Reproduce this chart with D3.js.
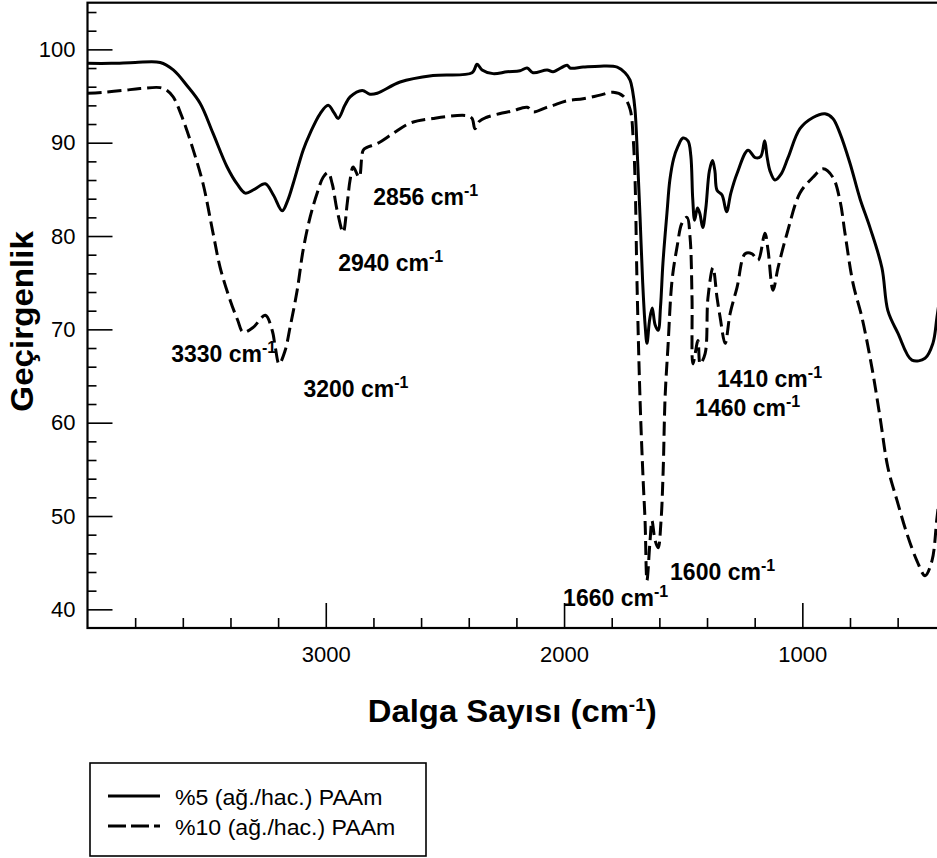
<!DOCTYPE html>
<html>
<head>
<meta charset="utf-8">
<script src="https://cdn.jsdelivr.net/npm/d3@7"></script>
<style>
  body { margin: 0; background: #fff; }
  svg { display: block; font-family: Arial, "Liberation Sans", sans-serif; }
</style>
</head>
<body>
<div id="chart"></div>
<script>
// %5 (ag./hac.) PAAm  - solid line
var wave5 = [4000,3900,3800,3695,3640,3582,3527,3473,3414,3370,3338,3300,3254,3220,3183,3160,3137,3095,3066,3024,
  2990,2965,2948,2920,2898,2847,2815,2784,2688,2550,2386,2365,2344,2298,2239,2185,2155,2130,2071,2046,
  1987,1975,1920,1849,1777,1744,1723,1712,1702,1692,1681,1670,1660,1652,1641,1630,1618,1605,1595,1585,
  1568,1556,1540,1522,1501,1480,1468,1460,1452,1440,1430,1418,1405,1390,1377,1367,1358,1337,1318,1300,
  1274,1228,1198,1175,1158,1148,1136,1115,1090,1060,1010,955,905,872,842,800,758,716,666,641,
  599,540,485,452,435,420];
var trans5 = [98.5,98.5,98.6,98.6,97.8,96.1,94.2,91.0,87.4,85.5,84.6,85.0,85.6,84.4,82.7,83.8,85.6,89.2,91.0,93.1,
  94.0,93.2,92.6,94.0,94.9,95.6,95.2,95.3,96.5,97.2,97.5,98.4,97.8,97.4,97.6,97.7,98.0,97.5,97.8,97.6,
  98.3,98.0,98.1,98.2,98.1,97.5,96.7,95.5,93.5,88.5,82.0,75.0,70.5,68.5,71.0,72.3,70.5,69.9,72.5,77.1,
  82.5,86.0,88.3,89.6,90.5,90.2,88.6,84.0,81.7,83.0,82.4,80.9,83.0,87.0,88.1,87.0,84.9,84.4,82.6,84.6,
  86.7,89.2,88.4,88.5,90.2,88.5,87.0,86.0,86.6,88.4,91.5,92.7,93.1,92.6,91.0,87.8,84.0,80.9,76.6,72.0,
  69.6,66.7,66.9,68.5,71.3,74.0];

// %10 (ag./hac.) PAAm  - dashed line
var wave10 = [4000,3934,3850,3779,3695,3666,3640,3598,3556,3515,3473,3443,3401,3370,3347,3305,3254,3225,3212,3196,
  3171,3150,3120,3095,3066,3036,3011,2990,2973,2952,2927,2910,2898,2885,2860,2843,2827,2784,2717,2646,
  2550,2408,2386,2374,2355,2327,2272,2217,2155,2130,2071,2046,1987,1920,1849,1794,1752,1723,1710,1702,
  1694,1681,1668,1660,1652,1639,1631,1618,1605,1593,1584,1576,1564,1547,1526,1505,1484,1471,1463,1459,
  1438,1429,1408,1396,1375,1358,1345,1324,1303,1274,1240,1211,1186,1157,1144,1123,1102,1064,1010,955,
  913,872,842,821,787,750,708,674,641,603,561,519,485,456,435,420];
var trans10 = [95.3,95.4,95.6,95.8,95.9,95.6,94.9,92.4,89.2,85.6,80.3,76.6,73.1,71.0,69.7,70.2,71.5,69.9,68.1,66.3,
  67.7,70.2,74.2,78.5,82.0,84.6,86.3,86.8,85.6,82.7,80.4,83.5,86.0,87.4,86.3,89.2,89.5,89.9,91.0,92.1,
  92.6,92.9,92.6,91.5,92.3,92.7,93.1,93.4,93.8,93.3,93.8,94.0,94.5,94.7,95.1,95.4,95.0,93.6,90.5,86.0,
  75.2,62.4,53.8,49.5,43.1,47.4,49.5,47.4,46.6,49.5,54.9,62.7,68.1,75.2,78.8,81.4,82.0,79.8,73.4,66.3,
  68.8,66.3,67.4,73.4,76.6,73.4,71.3,68.5,71.7,74.5,78.1,78.1,77.4,80.3,78.5,74.2,76.6,80.3,84.6,86.3,
  87.2,86.3,83.8,80.3,74.9,71.3,65.9,60.6,55.2,51.7,48.1,45.2,43.6,45.2,49.8,53.0];

var xTicks = [3000, 2000, 1000];
var yTicks = [40, 50, 60, 70, 80, 90, 100];

// peak labels (text start, baseline) in data units
var peakText = ["2856", "2940", "3330", "3200", "1660", "1600", "1410", "1460"];
var peakWave = [2801, 2948, 3649, 3094, 2004, 1555, 1358, 1450];
var peakTrans = [83.3, 76.2, 66.5, 62.7, 40.4, 43.1, 63.8, 60.7];

var seriesNames = ["%5 (ağ./hac.) PAAm", "%10 (ağ./hac.) PAAm"];

var W = 937, H = 858;
var svg = d3.select("#chart").append("svg").attr("width", W).attr("height", H);

var x = d3.scaleLinear().domain([4000, 400]).range([87.5, 945.3]);
var y = d3.scaleLinear().domain([38, 105]).range([628, 2.7]);

svg.append("clipPath").attr("id", "plot")
  .append("rect").attr("x", x(4000)).attr("y", y(105)).attr("width", W - x(4000)).attr("height", y(38) - y(105));

// minor ticks
svg.append("g").attr("transform", "translate(0," + y(38) + ")")
  .call(d3.axisBottom(x).tickValues(d3.range(3800, 399, -200).filter(function(d){ return d % 1000 != 0; }))
    .tickSize(-10).tickFormat(""));
svg.append("g").attr("transform", "translate(" + x(4000) + ",0)")
  .call(d3.axisLeft(y).tickValues(d3.range(42, 105, 2).filter(function(d){ return d % 10 != 0; }))
    .tickSize(-9).tickFormat(""));

// major ticks
var gx = svg.append("g").attr("transform", "translate(0," + y(38) + ")")
  .call(d3.axisBottom(x).tickValues(xTicks).tickSize(-25).tickPadding(18).tickFormat(d3.format("d")));
var gy = svg.append("g").attr("transform", "translate(" + x(4000) + ",0)")
  .call(d3.axisLeft(y).tickValues(yTicks).tickSize(-25).tickPadding(12).tickFormat(d3.format("d")));

svg.selectAll(".domain").remove();
svg.selectAll(".tick line").attr("stroke", "#000").attr("stroke-width", 1.6);
svg.selectAll(".tick text").attr("fill", "#000").style("font-size", "22px").style("font-family", "Arial, 'Liberation Sans', sans-serif");

// frame
svg.append("rect")
  .attr("x", x(4000)).attr("y", y(105))
  .attr("width", x(400) - x(4000)).attr("height", y(38) - y(105))
  .attr("fill", "none").attr("stroke", "#000").attr("stroke-width", 2.2);

var line = d3.line()
  .x(function(d){ return x(d[0]); })
  .y(function(d){ return y(d[1]); })
  .curve(d3.curveCatmullRom.alpha(0.5));

var plot = svg.append("g").attr("clip-path", "url(#plot)");
plot.append("path")
  .datum(d3.zip(wave5, trans5))
  .attr("d", line).attr("fill", "none").attr("stroke", "#000")
  .attr("stroke-width", 3).attr("stroke-linejoin", "round");
plot.append("path")
  .datum(d3.zip(wave10, trans10))
  .attr("d", line).attr("fill", "none").attr("stroke", "#000")
  .attr("stroke-width", 3).attr("stroke-dasharray", "14,6");

// peak labels
peakText.forEach(function(t, i) {
  var tx = svg.append("text")
    .attr("x", x(peakWave[i])).attr("y", y(peakTrans[i]))
    .style("font-size", "23px").style("font-weight", "bold");
  tx.append("tspan").text(t + " cm");
  tx.append("tspan").attr("dy", -9).style("font-size", "16px").text("-1");
});

// axis titles
var xt = svg.append("text")
  .attr("transform", "translate(" + ((x(4000) + W) / 2) + ",722) scale(1.06,1)")
  .attr("text-anchor", "middle")
  .style("font-size", "31px").style("font-weight", "bold");
xt.append("tspan").text("Dalga Sayısı (cm");
xt.append("tspan").attr("dy", -11).style("font-size", "18px").text("-1");
xt.append("tspan").attr("dy", 11).text(")");

svg.append("text")
  .attr("transform", "translate(33," + ((y(38) + y(105)) / 2 + 6) + ") rotate(-90) scale(1.07,1)")
  .attr("text-anchor", "middle")
  .style("font-size", "31px").style("font-weight", "bold")
  .text("Geçirgenlik");

// legend
var lg = svg.append("g");
lg.append("rect").attr("x", 90).attr("y", 763).attr("width", 336).attr("height", 93)
  .attr("fill", "#fff").attr("stroke", "#000").attr("stroke-width", 1.6);
seriesNames.forEach(function(name, i) {
  var ly = 796 + i * 30;
  lg.append("line").attr("x1", 108).attr("x2", 160).attr("y1", ly).attr("y2", ly)
    .attr("stroke", "#000").attr("stroke-width", 3.2)
    .attr("stroke-dasharray", i == 0 ? null : "18,5");
  lg.append("text").attr("transform", "translate(175," + (ly + 9) + ") scale(1.05,1)")
    .style("font-size", "22px").text(name);
});
</script>
</body>
</html>
